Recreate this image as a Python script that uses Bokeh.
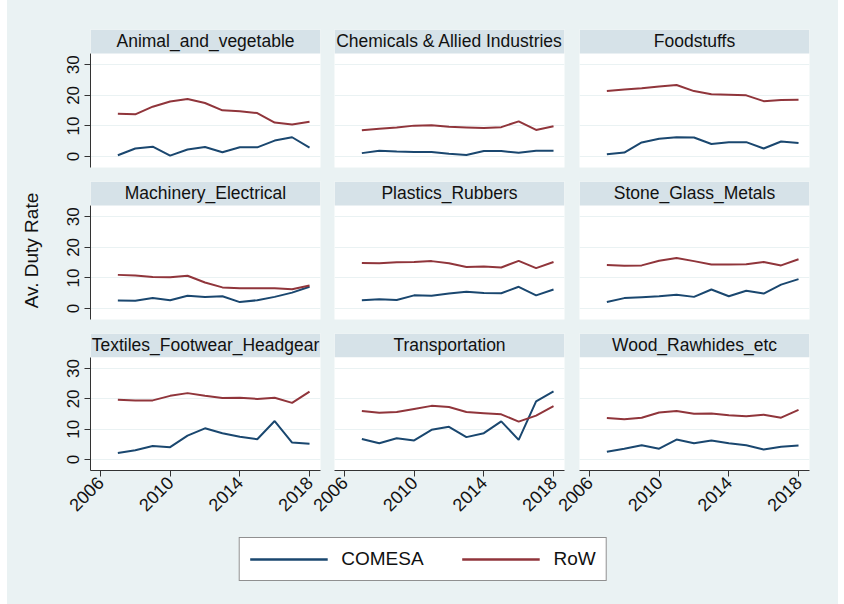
from bokeh.plotting import figure
from bokeh.layouts import row, column
from bokeh.models import (Range1d, FixedTicker, BoxAnnotation, Label, Legend,
                          LegendItem, Spacer)
from bokeh.embed import file_html
from bokeh.resources import INLINE

years = list(range(2007, 2019))
x_ticks = [2006, 2010, 2014, 2018]
y_ticks = [0, 10, 20, 30]
series_names = ["COMESA", "RoW"]

categories = ["Animal_and_vegetable", "Chemicals & Allied Industries", "Foodstuffs",
              "Machinery_Electrical", "Plastics_Rubbers", "Stone_Glass_Metals",
              "Textiles_Footwear_Headgear", "Transportation", "Wood_Rawhides_etc"]

comesa_animal = [0.4, 2.6, 3.2, 0.3, 2.3, 3.1, 1.4, 3.0, 3.0, 5.2, 6.3, 2.9]
row_animal = [14.0, 13.8, 16.3, 18.0, 18.8, 17.5, 15.1, 14.8, 14.2, 11.1, 10.5, 11.4]
comesa_chem = [1.1, 1.9, 1.6, 1.5, 1.5, 0.9, 0.5, 1.8, 1.8, 1.2, 1.9, 1.9]
row_chem = [8.6, 9.1, 9.5, 10.1, 10.2, 9.7, 9.5, 9.3, 9.6, 11.5, 8.7, 9.9]
comesa_food = [0.7, 1.3, 4.6, 5.8, 6.3, 6.2, 4.1, 4.7, 4.7, 2.6, 4.9, 4.4]
row_food = [21.4, 21.9, 22.3, 22.9, 23.4, 21.4, 20.4, 20.2, 20.0, 18.1, 18.5, 18.6]
comesa_mach = [2.6, 2.5, 3.4, 2.7, 4.2, 3.8, 4.0, 2.1, 2.7, 3.8, 5.2, 7.1]
row_mach = [11.0, 10.8, 10.3, 10.2, 10.7, 8.5, 6.9, 6.6, 6.6, 6.6, 6.3, 7.5]
comesa_plast = [2.7, 3.0, 2.8, 4.3, 4.2, 4.9, 5.5, 5.1, 5.0, 7.1, 4.3, 6.2]
row_plast = [14.9, 14.8, 15.1, 15.2, 15.5, 14.8, 13.6, 13.7, 13.4, 15.6, 13.2, 15.2]
comesa_stone = [2.1, 3.4, 3.7, 4.0, 4.5, 3.8, 6.2, 4.0, 5.8, 4.9, 7.8, 9.6]
row_stone = [14.2, 14.0, 14.1, 15.6, 16.5, 15.5, 14.4, 14.4, 14.5, 15.2, 14.1, 16.1]
comesa_text = [2.2, 3.1, 4.5, 4.1, 7.9, 10.3, 8.7, 7.5, 6.7, 12.7, 5.6, 5.2]
row_text = [19.7, 19.5, 19.5, 21.0, 21.9, 21.0, 20.3, 20.4, 20.0, 20.4, 18.7, 22.4]
comesa_trans = [6.8, 5.4, 7.0, 6.3, 9.8, 10.8, 7.4, 8.7, 12.6, 6.5, 19.2, 22.5]
row_trans = [16.0, 15.4, 15.7, 16.7, 17.7, 17.3, 15.7, 15.3, 14.9, 12.5, 14.5, 17.6]
comesa_wood = [2.6, 3.6, 4.7, 3.6, 6.6, 5.4, 6.3, 5.4, 4.7, 3.3, 4.2, 4.6]
row_wood = [13.7, 13.3, 13.8, 15.5, 16.0, 15.1, 15.2, 14.6, 14.3, 14.8, 13.8, 16.4]

comesa_series = [comesa_animal, comesa_chem, comesa_food, comesa_mach, comesa_plast,
                 comesa_stone, comesa_text, comesa_trans, comesa_wood]
row_series = [row_animal, row_chem, row_food, row_mach, row_plast,
              row_stone, row_text, row_trans, row_wood]

# styling
BG = "#EAF2F3"
HEADER = "#D6E2E8"
NAVY = "#1A476F"
MAROON = "#90353B"
FONT = "Liberation Sans"
TXT = "#111111"
AX = "#333333"

X0, X1 = 2005.43, 2018.63
Y0, YB = -3.6, 33.7          # body range
YH = 41.55                    # top including header

col_w = [320, 244, 267]
col_l = [83, 7, 8]
col_r = [7, 7, 29]
row_h = [174, 152, 194]
row_t = [29, 7, 7]
row_b = [7, 7, 49]
OVER = 30   # bottom-row overlap so rotated year labels are not cut

figs = []
for i, cat in enumerate(categories):
    r, c = divmod(i, 3)
    extra = OVER if (r == 2 and c > 0) else 0
    p = figure(width=col_w[c] + extra, height=row_h[r],
               x_range=Range1d(X0, X1), y_range=Range1d(Y0, YH),
               output_backend="svg", toolbar_location=None,
               x_axis_location="below" if r == 2 else None,
               y_axis_location="left" if c == 0 else None,
               min_border_left=col_l[c] + extra, min_border_right=col_r[c],
               min_border_top=row_t[r], min_border_bottom=row_b[r])
    if extra:
        p.margin = (0, 0, 0, -extra)
        p.border_fill_alpha = 0.0
    else:
        p.border_fill_color = BG
    p.background_fill_color = "white"
    p.outline_line_color = None
    p.xgrid.visible = False
    p.ygrid.ticker = FixedTicker(ticks=y_ticks)
    p.ygrid.grid_line_color = BG
    p.ygrid.grid_line_width = 1.2

    hdr = BoxAnnotation(left=X0, right=X1, bottom=YB, top=YH,
                        fill_color=HEADER, fill_alpha=1.0, line_color=None)
    p.add_layout(hdr)
    p.add_layout(Label(x=(X0 + X1) / 2, y=(YB + YH) / 2, text=cat,
                       text_align="center", text_baseline="middle",
                       text_font=FONT, text_font_size="17.5px", text_color=TXT))

    p.line(years, comesa_series[i], line_color=NAVY, line_width=2)
    p.line(years, row_series[i], line_color=MAROON, line_width=2)

    if c == 0:
        ax = p.yaxis[0]
        ax.ticker = FixedTicker(ticks=y_ticks)
        ax.bounds = (Y0, YB)
        ax.major_label_orientation = "vertical"
        ax.major_label_text_font = FONT
        ax.major_label_text_font_size = "17px"
        ax.major_label_text_color = TXT
        ax.major_label_standoff = 5
        ax.axis_line_color = AX
        ax.major_tick_line_color = AX
        ax.major_tick_out = 6
        ax.major_tick_in = 0
        ax.minor_tick_out = 0
        ax.minor_tick_in = 0
        if r == 1:
            ax.axis_label = "Av. Duty Rate"
            ax.axis_label_text_font = FONT
            ax.axis_label_text_font_size = "19px"
            ax.axis_label_text_font_style = "normal"
            ax.axis_label_text_color = TXT
            ax.axis_label_standoff = 23
    if r == 2:
        ax = p.xaxis[0]
        ax.ticker = FixedTicker(ticks=x_ticks)
        ax.major_label_orientation = 0.785398
        ax.major_label_text_font = FONT
        ax.major_label_text_font_size = "18px"
        ax.major_label_text_color = TXT
        ax.major_label_standoff = 3
        ax.axis_line_color = AX
        ax.major_tick_line_color = AX
        ax.major_tick_out = 6
        ax.major_tick_in = 0
        ax.minor_tick_out = 0
        ax.minor_tick_in = 0
    figs.append(p)

# legend figure (proxy lines drawn outside the visible range)
lf = figure(width=831, height=84, output_backend="svg", toolbar_location=None,
            x_range=Range1d(0, 1), y_range=Range1d(0, 1),
            x_axis_location=None, y_axis_location=None,
            min_border_left=0, min_border_right=0, min_border_top=0, min_border_bottom=7)
lf.background_fill_color = BG
lf.border_fill_color = BG
lf.outline_line_color = None
lf.grid.visible = False
r1 = lf.line(years, comesa_animal, line_color=NAVY, line_width=2.5)
r2 = lf.line(years, row_animal, line_color=MAROON, line_width=2.5)
legend = Legend(items=[LegendItem(label=series_names[0], renderers=[r1]),
                       LegendItem(label=series_names[1], renderers=[r2])],
                orientation="horizontal", location="center",
                glyph_width=78, glyph_height=20, label_standoff=14, spacing=38,
                padding=10, margin=0, border_line_color="#222222", border_line_width=1,
                background_fill_color="white", background_fill_alpha=1.0,
                label_text_font=FONT, label_text_font_size="19px",
                label_text_color=TXT, label_height=21)
lf.add_layout(legend, "center")

rows = [row(*figs[0:3]), row(*figs[3:6]), row(*figs[6:9])]
for rr in rows:
    rr.styles = {"background-color": BG}
grid_layout = column(*rows, lf)
grid_layout.styles = {"background-color": BG}
layout = row(Spacer(width=7, height=604), grid_layout)

open("out.html", "w").write(file_html(layout, INLINE))
